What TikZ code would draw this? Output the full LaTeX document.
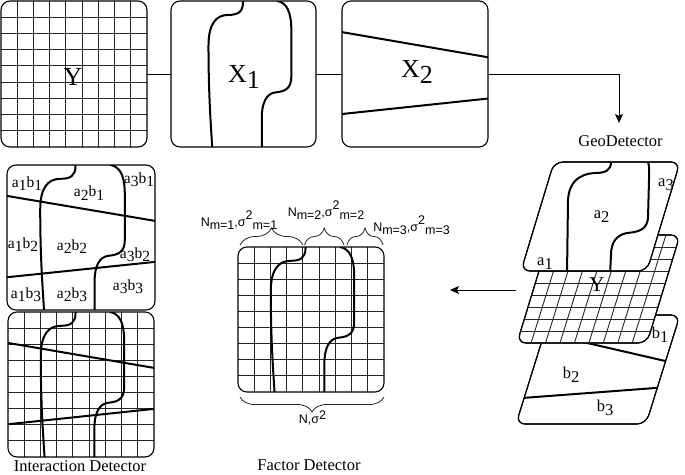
\documentclass[tikz,border=0pt]{standalone}
\usepackage{fontspec}
\setmainfont{Liberation Serif}
\setsansfont{Liberation Sans}
\usetikzlibrary{decorations.pathreplacing,arrows.meta}

\newcommand{\lowr}[1]{\raisebox{-0.25em}{#1}}
\newcommand{\highr}[1]{\raisebox{0.55em}{#1}}
\newcommand{\highs}[1]{\raisebox{0.32em}{#1}}
\newcommand{\gridlines}{%
  \foreach \i in {1,...,8}{%
    \draw[gridline] ({\i*147/9},-2) -- ({\i*147/9},149);
    \draw[gridline] (-2,{\i*147/9}) -- (149,{\i*147/9});
  }}
\newcommand{\xonecurves}{%
  \draw[curve] (73,-3) -- (73,1) .. controls (73,11) and (68,14) .. (58,14) .. controls (45,14) and (38,24) .. (38,45) .. controls (38,90) and (40,120) .. (42,150);
  \draw[curve] (107,-3) -- (108,0) .. controls (117,2) and (122,10) .. (122,30) -- (122,76) .. controls (122,88) and (116,91) .. (106,92) .. controls (97,93) and (92,102) .. (92,118) -- (92,150);}
\newcommand{\xtwolines}{%
  \draw[curve] (-2,31) -- (149,57);
  \draw[curve] (-2,114) -- (149,98);}

\tikzset{
  frame/.style={draw=black, line width=1.1pt, rounded corners=9pt},
  gridline/.style={draw=black!85, line width=0.9pt},
  curve/.style={draw=black, line width=2pt},
  conn/.style={draw=black, line width=1pt},
  tip/.style={-{Stealth[length=9pt,width=8pt,inset=2pt]}},
  boxnode/.style={inner sep=0pt, outer sep=0pt},
  biglbl/.style={font=\fontsize{26}{26}\selectfont, anchor=base, inner sep=0pt},
  midlbl/.style={font=\fontsize{16.5}{16.5}\selectfont, anchor=base, inner sep=0pt},
  lbl/.style={font=\fontsize{15.5}{15.5}\selectfont, anchor=base, inner sep=0pt},
  stk/.style={font=\fontsize{16.5}{16.5}\selectfont, anchor=base, inner sep=0pt},
  stkY/.style={font=\fontsize{21}{21}\selectfont, anchor=base, inner sep=0pt},
  slbl/.style={font=\sffamily\fontsize{12.5}{12.5}\selectfont, anchor=base, inner sep=0pt},
  brc/.style={draw=black!85, line width=0.8pt, decorate},
}

\begin{document}
\begin{tikzpicture}[x=1pt,y=-1pt]
\useasboundingbox (0,0) rectangle (685,474);

% ---------- top row ----------
\node[boxnode, minimum width=146pt, minimum height=146pt] (Ybox) at (74,74) {};
\node[boxnode, minimum width=145pt, minimum height=146pt] (X1box) at (243.5,74) {};
\node[boxnode, minimum width=146pt, minimum height=146pt] (X2box) at (415,74) {};

\begin{scope}[shift={(1,1)}, xscale=146/147, yscale=146/147]
  \begin{scope}
    \clip[rounded corners=9pt] (0,0) rectangle (147,147);
    \gridlines
  \end{scope}
  \draw[frame] (0,0) rectangle (147,147);
\end{scope}
\node[biglbl] (ylab) at (73,85) {Y};

\begin{scope}[shift={(171,1)}, xscale=145/147, yscale=146/147]
  \begin{scope}
    \clip[rounded corners=9pt] (0,0) rectangle (147,147);
    \xonecurves
  \end{scope}
  \draw[frame] (0,0) rectangle (147,147);
\end{scope}
\node[biglbl] (x1lab) at (244,82) {X\lowr{1}};

\begin{scope}[shift={(342,1)}, xscale=146/147, yscale=146/147]
  \begin{scope}
    \clip[rounded corners=9pt] (0,0) rectangle (147,147);
    \xtwolines
  \end{scope}
  \draw[frame] (0,0) rectangle (147,147);
\end{scope}
\node[biglbl] (x2lab) at (417,77) {X\lowr{2}};

\draw[conn] (Ybox.east) -- (X1box.west);
\draw[conn] (X1box.east) -- (X2box.west);
\coordinate (geoin) at (619,123);
\draw[conn, tip] (X2box.east) -| (geoin);
\node[midlbl] (geo) at (620.5,146) {GeoDetector};

% ---------- interaction detector ----------
\begin{scope}[shift={(7,165)}, xscale=148/147, yscale=145/147]
  \begin{scope}
    \clip[rounded corners=9pt] (0,0) rectangle (147,147);
    \begin{scope}[xshift=-5pt]\xonecurves\end{scope}
    \xtwolines
  \end{scope}
  \draw[frame] (0,0) rectangle (147,147);
\end{scope}
\node[lbl] (l11) at (27,187) {a\lowr{1}b\lowr{1}};
\node[lbl] (l21) at (89,196.7) {a\lowr{2}b\lowr{1}};
\node[lbl] (l31) at (139,183) {a\lowr{3}b\lowr{1}};
\node[lbl] (l12) at (23,248) {a\lowr{1}b\lowr{2}};
\node[lbl] (l22) at (72,250) {a\lowr{2}b\lowr{2}};
\node[lbl] (l32) at (135,258) {a\lowr{3}b\lowr{2}};
\node[lbl] (l13) at (26,298) {a\lowr{1}b\lowr{3}};
\node[lbl] (l23) at (72,298) {a\lowr{2}b\lowr{3}};
\node[lbl] (l33) at (128,290) {a\lowr{3}b\lowr{3}};

\begin{scope}[shift={(8,312)}, xscale=146/147, yscale=145/147]
  \begin{scope}
    \clip[rounded corners=9pt] (0,0) rectangle (147,147);
    \gridlines
    \begin{scope}[xshift=-5pt]\xonecurves\end{scope}
    \xtwolines
  \end{scope}
  \draw[frame] (0,0) rectangle (147,147);
\end{scope}
\node[midlbl] (idlab) at (80,471) {Interaction Detector};

% ---------- factor detector ----------
\begin{scope}[shift={(238,247)}, xscale=146/147, yscale=145/147]
  \begin{scope}
    \clip[rounded corners=9pt] (0,0) rectangle (147,147);
    \gridlines
    \begin{scope}[xshift=-5pt]\xonecurves\end{scope}
  \end{scope}
  \draw[frame] (0,0) rectangle (147,147);
\end{scope}
\draw[brc, decoration={brace, amplitude=17pt}] (240,245) -- (303,245);
\draw[brc, decoration={brace, amplitude=17pt}] (304.5,245) -- (344,245);
\draw[brc, decoration={brace, amplitude=17pt}] (347,245) -- (383,245);
\draw[brc, decoration={brace, amplitude=15pt}] (384,397) -- (240,397);
\node[slbl] (s1) at (239,226.7) {N\lowr{m=1},σ\highr{2}\lowr{m=1}};
\node[slbl] (s2) at (326,216.7) {N\lowr{m=2},σ\highr{2}\lowr{m=2}};
\node[slbl] (s3) at (411.5,231.7) {N\lowr{m=3},σ\highr{2}\lowr{m=3}};
\node[slbl] (s4) at (312.5,423.3) {N,σ\highs{2}};
\node[midlbl] (fdlab) at (309,470) {Factor Detector};

% ---------- GeoDetector stack ----------
% b layer
\draw[frame, fill=white] (615,315) -- (680,315) -- (646,424) -- (516,424) -- (550,315) -- cycle;
\begin{scope}
  \clip[rounded corners=9pt] (615,315) -- (680,315) -- (646,424) -- (516,424) -- (550,315) -- cycle;
  \draw[curve] (540,332.1) -- (690,366.7);
  \draw[curve] (510,398.9) -- (690,385.4);
\end{scope}
\draw[frame] (615,315) -- (680,315) -- (646,424) -- (516,424) -- (550,315) -- cycle;
\node[stk] (b1) at (660,338) {b\lowr{1}};
\node[stk] (b2) at (571,378) {b\lowr{2}};
\node[stk] (b3) at (605,411.7) {b\lowr{3}};

% Y grid layer
\draw[frame, fill=white] (615,235) -- (680,235) -- (647,343) -- (517,343) -- (550,235) -- cycle;
\begin{scope}
  \clip[rounded corners=9pt] (615,235) -- (680,235) -- (647,343) -- (517,343) -- (550,235) -- cycle;
  \foreach \i in {1,...,8}{%
    \draw[gridline] ({550+130*\i/9+1},233) -- ({517+130*\i/9-1},345);
    \draw[gridline] ({540-33*\i/9},{235+108*\i/9}) -- ({690-33*\i/9},{235+108*\i/9});
  }
\end{scope}
\draw[frame] (615,235) -- (680,235) -- (647,343) -- (517,343) -- (550,235) -- cycle;
\node[stkY] (ystk) at (597,291.7) {Y};

% a layer
\draw[frame, fill=white] (615,162) -- (680,162) -- (647,271) -- (521,271) -- (554,162) -- cycle;
\begin{scope}
  \clip[rounded corners=9pt] (615,162) -- (680,162) -- (647,271) -- (521,271) -- (554,162) -- cycle;
  \draw[curve] (611,158) -- (611,162) .. controls (611,170) and (606,173) .. (595,173) .. controls (578,174) and (569,183) .. (568,200) -- (567,275);
  \draw[curve] (646,158) -- (647,161) .. controls (650,164) and (649,170) .. (649,180) -- (648,218) .. controls (647,230) and (638,232) .. (627,233) .. controls (616,235) and (611,243) .. (611,255) -- (610,275);
\end{scope}
\draw[frame] (615,162) -- (680,162) -- (647,271) -- (521,271) -- (554,162) -- cycle;
\node[stk] (a1) at (545,265) {a\lowr{1}};
\node[stk] (a2) at (601.7,218) {a\lowr{2}};
\node[stk] (a3) at (666,186) {a\lowr{3}};

\coordinate (stackout) at (516,290);
\coordinate (fdin) at (450,290);
\draw[conn, tip] (stackout) -- (fdin);
\end{tikzpicture}
\end{document}
